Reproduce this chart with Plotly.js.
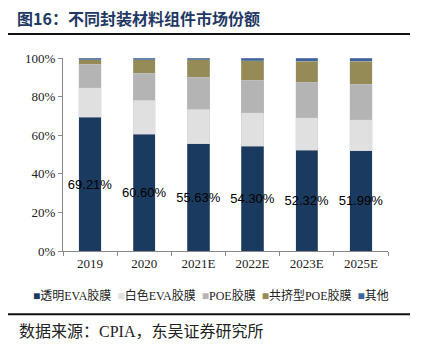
<!DOCTYPE html>
<html>
<head>
<meta charset="utf-8">
<script src="https://cdn.plot.ly/plotly-3.0.1.min.js"></script>
<style>html,body{margin:0;padding:0;background:#fff;}#chart{width:425px;height:348px;}</style>
</head>
<body>
<div id="chart"></div>
<script>
// ---- data ----
const categories = ['2019', '2020', '2021E', '2022E', '2023E', '2025E'];
const seriesNames = ['透明EVA胶膜', '白色EVA胶膜', 'POE胶膜', '共挤型POE胶膜', '其他'];
const transparentEVA = [69.21, 60.60, 55.63, 54.30, 52.32, 51.99];
const whiteEVA       = [15.5, 17.5, 17.8, 17.4, 16.6, 15.9];
const poe            = [12.0, 14.1, 16.6, 16.8, 18.4, 18.6];
const coextrudedPOE  = [2.5, 7.0, 9.0, 10.1, 11.0, 11.8];
const others         = [0.79, 0.8, 0.97, 1.4, 1.68, 1.71];
const yTickVals = [0, 20, 40, 60, 80, 100];
const titleText = '图16：不同封装材料组件市场份额';
const sourceText = '数据来源：CPIA，东吴证券研究所';

// ---- styles ----
const colors = ['#1b3a5f', '#e0e0e0', '#b4b4b4', '#948b56', '#3d63a0'];
const serif = 'Liberation Serif, Times New Roman, Noto Sans CJK SC, serif';
const seriesValues = [transparentEVA, whiteEVA, poe, coextrudedPOE, others];

const traces = seriesValues.map((vals, i) => {
  const t = {
    type: 'bar',
    name: seriesNames[i],
    x: categories,
    y: vals,
    marker: {color: colors[i], line: {color: 'rgba(200,200,200,0.6)', width: 0.5}},
    showlegend: false,
    hoverinfo: 'none'
  };
  if (i === 0) {
    t.text = vals.map(v => v.toFixed(2) + '%');
    t.textposition = 'inside';
    t.insidetextanchor = 'middle';
    t.constraintext = 'none';
    t.textangle = 0;
    t.textfont = {family: 'Liberation Sans, Arial, sans-serif', size: 13, color: '#000'};
  }
  return t;
});

const legendText = seriesNames.map((n, i) =>
  '<span style="color:' + colors[i] + ';font-size:12px">■</span>' + n).join('&nbsp;&nbsp;');

const layout = {
  width: 425, height: 348,
  margin: {l: 63, r: 37, t: 58, b: 97, pad: 0},
  paper_bgcolor: '#fff', plot_bgcolor: '#fff',
  barmode: 'stack',
  bargap: 0.587,
  title: {
    text: '<b>' + titleText + '</b>',
    font: {family: 'Noto Sans CJK SC, sans-serif', size: 16, color: '#1f3864'},
    xref: 'container', yref: 'container',
    x: 17 / 425, xanchor: 'left',
    y: 1 - 19 / 348, yanchor: 'middle'
  },
  xaxis: {
    type: 'category',
    tickson: 'boundaries',
    ticks: 'outside', ticklen: 4, tickcolor: '#888',
    showline: true, linecolor: '#888', linewidth: 1,
    showgrid: false, zeroline: false,
    tickfont: {family: serif, size: 13, color: '#222'}
  },
  yaxis: {
    range: [0, 100],
    tickvals: yTickVals,
    ticktext: yTickVals.map(v => v + '%'),
    ticks: 'outside', ticklen: 4, tickcolor: '#888',
    showline: true, linecolor: '#888', linewidth: 1,
    showgrid: false, zeroline: false,
    tickfont: {family: serif, size: 13, color: '#222'}
  },
  annotations: [
    {
      xref: 'paper', yref: 'paper',
      x: (211 - 63) / 325, y: (251 - 295) / 192,
      xanchor: 'center', yanchor: 'middle',
      showarrow: false,
      text: legendText,
      font: {family: serif, size: 12, color: '#222'}
    },
    {
      xref: 'paper', yref: 'paper',
      x: (17 - 63) / 325, y: (251 - 331) / 192,
      xanchor: 'left', yanchor: 'middle',
      showarrow: false,
      text: sourceText,
      font: {family: serif, size: 16, color: '#222'}
    }
  ],
  shapes: [
    {type: 'line', xref: 'paper', yref: 'paper',
     x0: (8 - 63) / 325, x1: (410 - 63) / 325,
     y0: (251 - 35) / 192, y1: (251 - 35) / 192,
     line: {color: '#111', width: 2}},
    {type: 'line', xref: 'paper', yref: 'paper',
     x0: (8 - 63) / 325, x1: (410 - 63) / 325,
     y0: (251 - 314) / 192, y1: (251 - 314) / 192,
     line: {color: '#111', width: 2}}
  ]
};

Plotly.newPlot('chart', traces, layout, {staticPlot: true, displayModeBar: false});
</script>
</body>
</html>
